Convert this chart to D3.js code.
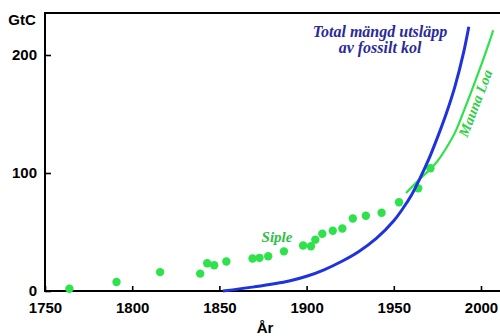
<!DOCTYPE html>
<html>
<head>
<meta charset="utf-8">
<script src="https://cdn.jsdelivr.net/npm/d3@7"></script>
<style>
body { margin: 0; background: #fff; }
</style>
</head>
<body>
<div id="chart"></div>
<script>
// cumulative fossil carbon emissions (GtC)
const fossilYears = [1852, 1870, 1890, 1900, 1910, 1920, 1930, 1940, 1950, 1955, 1960, 1965, 1970, 1975, 1980, 1985, 1990, 1993];
const fossilValues = [0, 3.5, 8.5, 12.5, 18, 25, 33.5, 44.5, 59.5, 69.5, 81, 95.5, 111.5, 130, 150, 173, 202, 224];

// Mauna Loa atmospheric increase
const maunaYears = [1957, 1965, 1970, 1975, 1980, 1985, 1990, 1995, 2000, 2005, 2007];
const maunaValues = [83, 95, 102, 110, 121, 134, 152, 171, 191, 212, 221];

// Siple ice core points
const sipleYears = [1764, 1791, 1816, 1839, 1843, 1847, 1854, 1869, 1873, 1878, 1887, 1898, 1902.5, 1905, 1909, 1915, 1920.5, 1926.5, 1934, 1943, 1953, 1964, 1971];
const sipleValues = [1.9, 7.6, 16, 14.7, 23.5, 21.8, 25, 27.5, 28.1, 29.5, 33.6, 38.5, 37.9, 43.5, 48.5, 51.1, 53, 61.5, 63.8, 66.3, 75.2, 87, 104];

const xTicks = [1750, 1800, 1850, 1900, 1950, 2000];
const yTicks = [0, 100, 200];

const width = 500, height = 336;
const svg = d3.select("#chart").append("svg")
	.attr("width", width)
	.attr("height", height);

const x = d3.scaleLinear().domain([1750, 2000]).range([45, 481]);
const y = d3.scaleLinear().domain([0, 200]).range([291, 55]);

const green = "#2ee24c";
const blue = "#1f33dd";

// axes
const xAxis = svg.append("g")
	.attr("transform", "translate(0," + y(0) + ")")
	.call(d3.axisBottom(x).tickValues(xTicks).tickFormat(d3.format("d")).tickSizeInner(-5).tickSizeOuter(0).tickPadding(11));
const yAxis = svg.append("g")
	.attr("transform", "translate(" + x(1750) + ",0)")
	.call(d3.axisLeft(y).tickValues(yTicks).tickSizeInner(-6).tickSizeOuter(0).tickPadding(8));

[xAxis, yAxis].forEach(function(g) {
	g.select(".domain").remove();
	g.selectAll(".tick line").attr("stroke", "#000").attr("stroke-width", 1.6);
	g.selectAll("text")
		.attr("fill", "#000")
		.style("font-family", "Liberation Sans, Arial, sans-serif")
		.style("font-weight", "bold")
		.style("font-size", "15px");
});

// frame
const frameTop = 13;
svg.append("path")
	.attr("d", "M500," + frameTop + "H" + x(1750) + "V" + y(0) + "H500")
	.attr("fill", "none")
	.attr("stroke", "#000")
	.attr("stroke-width", 2);

// Siple dots
svg.selectAll("circle.siple")
	.data(sipleYears)
	.enter()
	.append("circle")
	.attr("class", "siple")
	.attr("cx", function(d) { return x(d); })
	.attr("cy", function(d, i) { return y(sipleValues[i]); })
	.attr("r", 4.2)
	.attr("fill", green);

const line = d3.line()
	.x(function(d) { return x(d[0]); })
	.y(function(d) { return y(d[1]); })
	.curve(d3.curveCatmullRom.alpha(0.5));

svg.append("path")
	.datum(d3.zip(maunaYears, maunaValues))
	.attr("d", line)
	.attr("fill", "none")
	.attr("stroke", green)
	.attr("stroke-width", 2.2);

svg.append("path")
	.datum(d3.zip(fossilYears, fossilValues))
	.attr("d", line)
	.attr("fill", "none")
	.attr("stroke", blue)
	.attr("stroke-width", 3);

// labels
const sans = "Liberation Sans, Arial, sans-serif";
const serif = "Liberation Serif, Times New Roman, serif";

svg.append("text")
	.attr("x", 22).attr("y", 25)
	.attr("text-anchor", "middle")
	.style("font-family", sans).style("font-weight", "bold").style("font-size", "15px")
	.text("GtC");

svg.append("text")
	.attr("x", 265).attr("y", 333)
	.attr("text-anchor", "middle")
	.style("font-family", sans).style("font-weight", "bold").style("font-size", "15px")
	.text("År");

const total = svg.append("text")
	.attr("text-anchor", "middle")
	.attr("fill", "#2a2a9c")
	.style("font-family", serif).style("font-weight", "bold").style("font-style", "italic").style("font-size", "16px");
total.append("tspan").attr("x", 380).attr("y", 37).text("Total mängd utsläpp");
total.append("tspan").attr("x", 380).attr("y", 53).text("av fossilt kol");

svg.append("text")
	.attr("transform", "translate(480,105) rotate(-69)")
	.attr("text-anchor", "middle")
	.attr("fill", "#2fcf48")
	.style("font-family", serif).style("font-weight", "bold").style("font-style", "italic").style("font-size", "14.5px")
	.text("Mauna Loa");

svg.append("text")
	.attr("x", 277).attr("y", 242)
	.attr("text-anchor", "middle")
	.attr("fill", "#2fbf48")
	.style("font-family", serif).style("font-weight", "bold").style("font-style", "italic").style("font-size", "15px")
	.text("Siple");
</script>
</body>
</html>
